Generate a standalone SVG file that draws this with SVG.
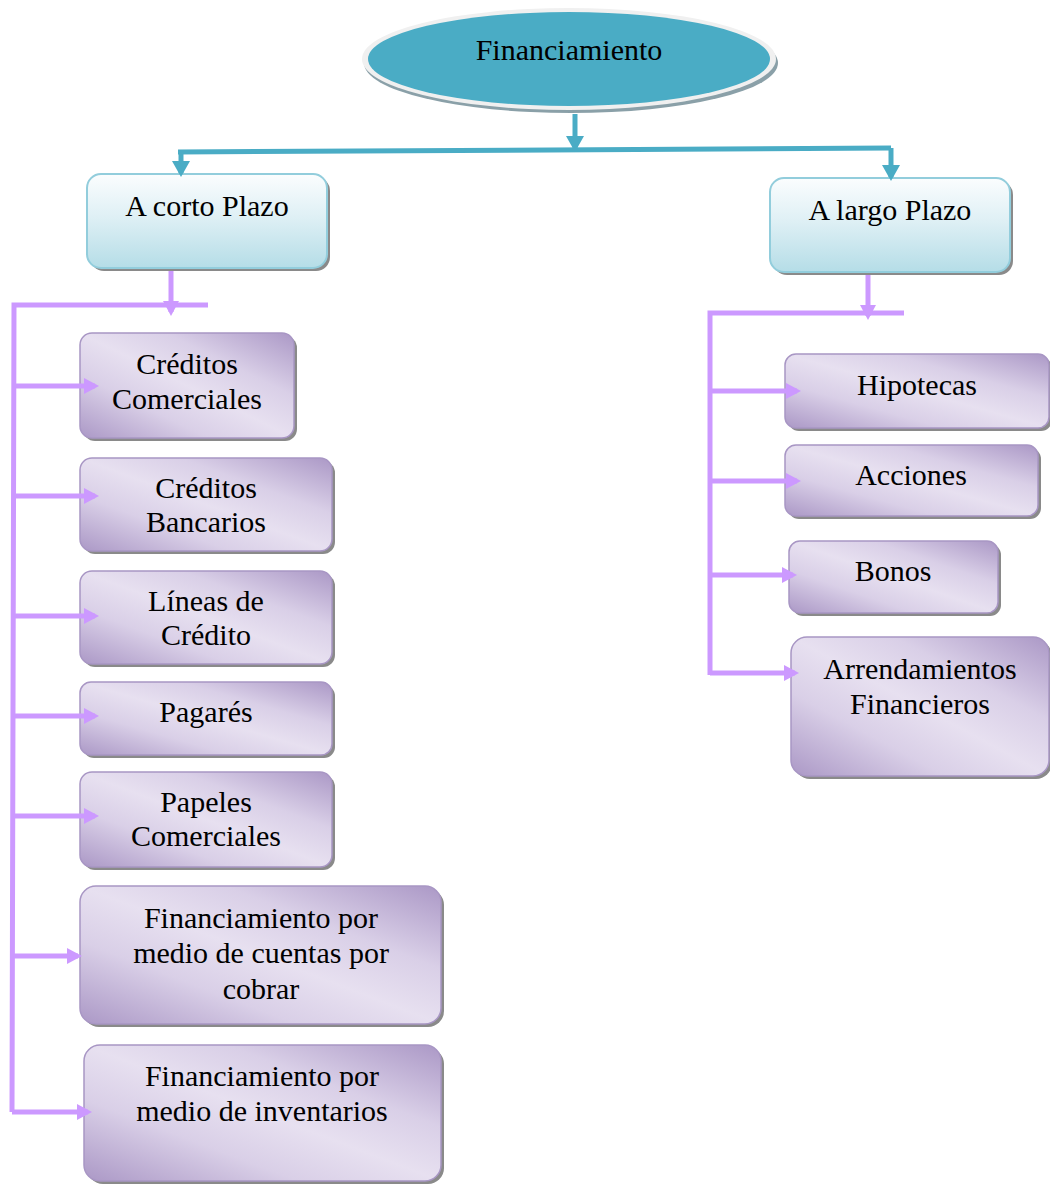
<svg xmlns="http://www.w3.org/2000/svg" width="1050" height="1184" viewBox="0 0 1050 1184">
<defs>
<linearGradient id="gBlue" x1="0" y1="0" x2="0" y2="1">
<stop offset="0" stop-color="#fbfdfe"/>
<stop offset="0.45" stop-color="#dff0f5"/>
<stop offset="1" stop-color="#b5dde7"/>
</linearGradient>
<linearGradient id="gPurple" x1="1" y1="0" x2="0" y2="1">
<stop offset="0" stop-color="#ab98c6"/>
<stop offset="0.3" stop-color="#d9cfe7"/>
<stop offset="0.5" stop-color="#e7e0f0"/>
<stop offset="0.7" stop-color="#d9cfe7"/>
<stop offset="1" stop-color="#ab98c6"/>
</linearGradient>
<marker id="aP" markerWidth="15" markerHeight="16" refX="11" refY="8" orient="auto" markerUnits="userSpaceOnUse">
<path d="M0,0 L15,8 L0,16 Z" fill="#cc99ff"/>
</marker>
<marker id="aB" markerWidth="16" markerHeight="18" refX="12" refY="9" orient="auto" markerUnits="userSpaceOnUse">
<path d="M0,0 L16,9 L0,18 Z" fill="#4aacc5"/>
</marker>
</defs>
<style>
.t{font-family:"Liberation Serif","Times New Roman",serif;font-size:30px;fill:#000;text-anchor:middle}
.bx{fill:url(#gBlue);stroke:#92cddc;stroke-width:2}
.px{fill:url(#gPurple);stroke:#a896c4;stroke-width:1.5}
.sh{fill:#8a8a8a}
.pl{fill:none;stroke:#cc99ff;stroke-width:5}
.bl{fill:none;stroke:#4aacc5;stroke-width:5}
</style>
<rect width="1050" height="1184" fill="#fff"/>

<g id="n-financiamiento">
<ellipse cx="571" cy="63" rx="207" ry="50" fill="#8aa0a8"/>
<ellipse cx="569" cy="59" rx="207" ry="51" fill="#f0f0f0"/>
<ellipse cx="569" cy="59" rx="201" ry="47" fill="#4aacc5"/>
<text class="t" x="569" y="60">Financiamiento</text>
</g>

<g id="n-corto">
<rect class="sh" x="90" y="177" width="240" height="94" rx="14"/>
<rect class="bx" x="87" y="174" width="240" height="94" rx="14"/>
<text class="t" x="207" y="216">A corto Plazo</text>
</g>
<g id="n-largo">
<rect class="sh" x="773" y="181" width="240" height="94" rx="14"/>
<rect class="bx" x="770" y="178" width="240" height="94" rx="14"/>
<text class="t" x="890" y="220">A largo Plazo</text>
</g>

<g id="n-creditos-comerciales">
<rect class="sh" x="83" y="336" width="214" height="105" rx="12"/>
<rect class="px" x="80" y="333" width="214" height="105" rx="12"/>
<text class="t" x="187" y="374">Créditos</text>
<text class="t" x="187" y="409">Comerciales</text>
</g>
<g id="n-creditos-bancarios">
<rect class="sh" x="83" y="461" width="252" height="93" rx="12"/>
<rect class="px" x="80" y="458" width="252" height="93" rx="12"/>
<text class="t" x="206" y="498">Créditos</text>
<text class="t" x="206" y="532">Bancarios</text>
</g>
<g id="n-lineas">
<rect class="sh" x="83" y="574" width="252" height="93" rx="12"/>
<rect class="px" x="80" y="571" width="252" height="93" rx="12"/>
<text class="t" x="206" y="611">Líneas de</text>
<text class="t" x="206" y="645">Crédito</text>
</g>
<g id="n-pagares">
<rect class="sh" x="83" y="685" width="252" height="73" rx="11"/>
<rect class="px" x="80" y="682" width="252" height="73" rx="11"/>
<text class="t" x="206" y="722">Pagarés</text>
</g>
<g id="n-papeles">
<rect class="sh" x="83" y="775" width="252" height="95" rx="12"/>
<rect class="px" x="80" y="772" width="252" height="95" rx="12"/>
<text class="t" x="206" y="812">Papeles</text>
<text class="t" x="206" y="846">Comerciales</text>
</g>
<g id="n-cuentas">
<rect class="sh" x="83" y="889" width="361" height="138" rx="16"/>
<rect class="px" x="80" y="886" width="361" height="138" rx="16"/>
<text class="t" x="261" y="928">Financiamiento por</text>
<text class="t" x="261" y="963">medio de cuentas por</text>
<text class="t" x="261" y="999">cobrar</text>
</g>
<g id="n-inventarios">
<rect class="sh" x="87" y="1048" width="357" height="136" rx="16"/>
<rect class="px" x="84" y="1045" width="357" height="136" rx="16"/>
<text class="t" x="262" y="1086">Financiamiento por</text>
<text class="t" x="262" y="1121">medio de inventarios</text>
</g>

<g id="n-hipotecas">
<rect class="sh" x="788" y="357" width="264" height="74" rx="11"/>
<rect class="px" x="785" y="354" width="264" height="74" rx="11"/>
<text class="t" x="917" y="395">Hipotecas</text>
</g>
<g id="n-acciones">
<rect class="sh" x="788" y="448" width="253" height="71" rx="11"/>
<rect class="px" x="785" y="445" width="253" height="71" rx="11"/>
<text class="t" x="911" y="485">Acciones</text>
</g>
<g id="n-bonos">
<rect class="sh" x="792" y="544" width="209" height="72" rx="11"/>
<rect class="px" x="789" y="541" width="209" height="72" rx="11"/>
<text class="t" x="893" y="581">Bonos</text>
</g>
<g id="n-arrendamientos">
<rect class="sh" x="794" y="640" width="258" height="139" rx="16"/>
<rect class="px" x="791" y="637" width="258" height="139" rx="16"/>
<text class="t" x="920" y="679">Arrendamientos</text>
<text class="t" x="920" y="714">Financieros</text>
</g>

<g id="connectors">
<line class="bl" x1="575" y1="114" x2="575" y2="148" marker-end="url(#aB)"/>
<line class="bl" x1="178" y1="152" x2="891" y2="148"/>
<line class="bl" x1="181" y1="152" x2="181" y2="173" marker-end="url(#aB)"/>
<line class="bl" x1="891" y1="148" x2="891" y2="177" marker-end="url(#aB)"/>

<line class="pl" x1="171" y1="271" x2="171" y2="312" marker-end="url(#aP)"/>
<polyline class="pl" points="208,305 14,305 12,1112"/>
<line class="pl" x1="14" y1="386" x2="95" y2="386" marker-end="url(#aP)"/>
<line class="pl" x1="14" y1="496" x2="95" y2="496" marker-end="url(#aP)"/>
<line class="pl" x1="14" y1="616" x2="95" y2="616" marker-end="url(#aP)"/>
<line class="pl" x1="14" y1="716" x2="95" y2="716" marker-end="url(#aP)"/>
<line class="pl" x1="14" y1="816" x2="95" y2="816" marker-end="url(#aP)"/>
<line class="pl" x1="13" y1="956" x2="78" y2="956" marker-end="url(#aP)"/>
<line class="pl" x1="12" y1="1112" x2="88" y2="1112" marker-end="url(#aP)"/>

<line class="pl" x1="868" y1="275" x2="868" y2="316" marker-end="url(#aP)"/>
<polyline class="pl" points="904,313 710,313 710,675"/>
<line class="pl" x1="710" y1="391" x2="797" y2="391" marker-end="url(#aP)"/>
<line class="pl" x1="710" y1="481" x2="797" y2="481" marker-end="url(#aP)"/>
<line class="pl" x1="710" y1="575" x2="793" y2="575" marker-end="url(#aP)"/>
<line class="pl" x1="710" y1="673" x2="795" y2="673" marker-end="url(#aP)"/>
</g>
</svg>
